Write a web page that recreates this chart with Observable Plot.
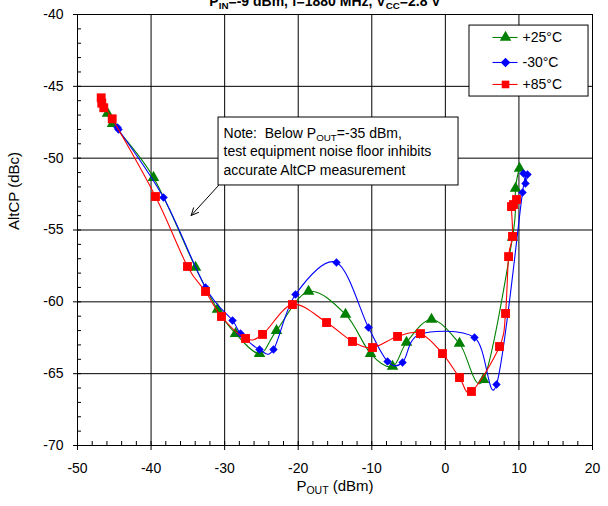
<!DOCTYPE html>
<html>
<head>
<meta charset="utf-8">
<script src="https://cdn.jsdelivr.net/npm/d3@7"></script>
<script src="https://cdn.jsdelivr.net/npm/@observablehq/plot@0.6"></script>
<style>
  html, body { margin: 0; padding: 0; background: white; }
  #chart { width: 608px; height: 506px; overflow: hidden; }
</style>
</head>
<body>
<div id="chart"></div>
<script>
// ---- Data ----
const seriesNames = ["+25°C", "-30°C", "+85°C"];
const seriesColors = ["#008000", "#0000FF", "#FF0000"];
const seriesSymbols = ["triangle", "diamond2", "square"];

const pout25 = [-45.92,-45.24,-39.67,-33.96,-30.97,-28.52,-25.26,-22.95,-18.60,-13.57,-10.17,-7.18,-5.28,-1.88,1.92,5.19,9.13,9.54,10.08];
const altcp25 = [-46.89,-47.59,-51.35,-57.61,-60.53,-62.21,-63.60,-62.00,-59.28,-60.88,-63.60,-64.50,-62.83,-61.23,-62.90,-65.41,-55.52,-52.11,-50.72];

const poutM30 = [-44.56,-44.43,-38.31,-32.60,-28.93,-27.84,-25.26,-23.36,-20.37,-14.80,-10.45,-7.86,-5.82,-3.51,3.96,6.95,10.49,10.89,11.17,10.62];
const altcpM30 = [-47.87,-48.00,-52.74,-59.00,-61.30,-62.21,-63.32,-63.32,-59.49,-57.26,-61.79,-64.15,-64.22,-62.27,-62.48,-65.76,-52.39,-51.76,-51.14,-51.07];

const pout85 = [-46.78,-46.70,-46.43,-45.28,-39.40,-35.05,-32.60,-30.43,-27.16,-24.85,-20.78,-16.15,-12.62,-9.90,-6.50,-3.38,-0.39,1.92,3.55,7.36,8.18,8.59,9.13,8.99,9.26,9.67];
const altcp85 = [-45.80,-46.17,-46.49,-47.26,-52.67,-57.54,-59.28,-61.02,-62.55,-62.27,-60.19,-61.44,-62.76,-63.18,-62.41,-62.21,-63.60,-65.27,-66.24,-63.11,-60.81,-56.85,-55.45,-53.37,-53.23,-52.88];

const xTicks = [-50,-40,-30,-20,-10,0,10,20];
const yTicks = [-70,-65,-60,-55,-50,-45,-40];
const xMinor = d3.range(-50, 20.001, 2);
const yMinor = d3.range(-70, -39.999, 1);

const titleSegs = [["P",0],["IN",1],["=-9 dBm, f=1880 MHz, V",0],["CC",1],["=2.8 V",0]];
const xLabelSegs = [["P",0],["OUT",1],[" (dBm)",0]];
const yLabelText = "AltCP (dBc)";
const noteLine1Segs = [["Note:  Below P",0],["OUT",1],["=-35 dBm,",0]];
const noteLines = ["test equipment noise floor inhibits", "accurate AltCP measurement"];

// Annotation placement (in chart units)
const noteBox = {x1: -30.83, x2: 1.79, y1: -47.17, y2: -51.90};
const noteTextX = -30.15;
const noteTextY = [-48.28, -49.54, -50.86];
const noteArrow = {x1: -30.83, y1: -51.90, x2: -34.55, y2: -53.99};
const legendBox = {x1: 3.28, x2: 19.46, y1: -40.77, y2: -45.71};
const legendRowY = [-41.60, -43.34, -44.87];
const legendLineX = [6.41, 9.81];
const legendMarkX = 8.18;
const legendTextX = 10.49;

// ---- Build tables ----
const join = segs => segs.map(s => s[0]).join("");
const toRows = (xs, ys, s) => xs.map((x, i) => ({pout: x, altcp: ys[i], series: s}));
const series = [
  toRows(pout25, altcp25, 0),
  toRows(poutM30, altcpM30, 1),
  toRows(pout85, altcp85, 2)
];
const legendRows = seriesNames.map((n, i) => ({name: n, color: seriesColors[i], symbol: seriesSymbols[i], y: legendRowY[i]}));
const noteRows = [join(noteLine1Segs), ...noteLines].map((t, i) => ({t, y: noteTextY[i]}));

const FONT = "'Liberation Sans', Arial, sans-serif";
const FS = 14;
const hyphen = d => String(d);

const seriesMarks = series.flatMap((rows, i) => [
  Plot.line(rows, {x: "pout", y: "altcp", stroke: seriesColors[i], strokeWidth: 1.1, curve: "cardinal", tension: 0}),
  Plot.dot(rows, {x: "pout", y: "altcp", symbol: seriesSymbols[i], fill: seriesColors[i], stroke: "none", r: i === 2 ? 5 : (i === 1 ? 3.8 : 4.3)})
]);

const chart = Plot.plot({
  width: 608,
  height: 506,
  marginLeft: 77,
  marginRight: 16,
  marginTop: 14,
  marginBottom: 61,
  style: {fontFamily: FONT, fontSize: FS + "px", background: "white", color: "black", overflow: "hidden"},
  x: {domain: [-50, 20]},
  y: {domain: [-70, -40]},
  marks: [
    Plot.gridX({ticks: xTicks, stroke: "black", strokeOpacity: 1, strokeWidth: 1}),
    Plot.gridY({ticks: yTicks, stroke: "black", strokeOpacity: 1, strokeWidth: 1}),
    Plot.frame({stroke: "black", strokeWidth: 1}),
    Plot.axisX({ticks: xTicks, tickSize: 5, tickPadding: 13, fontSize: FS, tickFormat: hyphen, label: null}),
    Plot.axisX({ticks: xMinor, tickSize: -4, tickFormat: () => "", label: null}),
    Plot.axisY({ticks: yTicks, tickSize: 4, tickPadding: 10, fontSize: FS, tickFormat: hyphen, label: null}),
    Plot.axisY({ticks: yMinor, tickSize: -4, tickFormat: () => "", label: null}),
    // note box + arrow
    Plot.rect([noteBox], {x1: "x1", x2: "x2", y1: "y1", y2: "y2", fill: "white", stroke: "black", strokeWidth: 1}),
    Plot.text(noteRows, {x: noteTextX, y: "y", text: "t", textAnchor: "start", fontSize: FS, fill: "black"}),
    Plot.arrow([noteArrow], {x1: "x1", y1: "y1", x2: "x2", y2: "y2", stroke: "black", strokeWidth: 1, headLength: 12, headAngle: 50}),
    // legend
    Plot.rect([legendBox], {x1: "x1", x2: "x2", y1: "y1", y2: "y2", fill: "white", stroke: "black", strokeWidth: 1}),
    Plot.link(legendRows, {x1: legendLineX[0], x2: legendLineX[1], y1: "y", y2: "y", stroke: "color", strokeWidth: 1.1}),
    Plot.dot(legendRows, {x: legendMarkX, y: "y", symbol: "symbol", fill: "color", stroke: "none", r: 4.3}),
    Plot.text(legendRows, {x: legendTextX, y: "y", text: "name", textAnchor: "start", fontSize: FS, fill: "black"}),
    // data
    ...seriesMarks,
    // axis labels & title
    Plot.text([join(xLabelSegs)], {frameAnchor: "bottom", dy: 45, text: d => d, fontSize: 15, fill: "black"}),
    Plot.text([yLabelText], {frameAnchor: "left", dx: -63, rotate: -90, text: d => d, fontSize: 15, fill: "black"}),
    Plot.text([join(titleSegs)], {frameAnchor: "top", dx: -10, dy: -9, lineAnchor: "bottom", text: d => d, fontSize: FS, fontWeight: "bold", fill: "black"})
  ]
});
document.getElementById("chart").appendChild(chart);

// Subscript rewriting of text elements
function applySubs(root, segs) {
  const full = join(segs);
  d3.select(root).selectAll("text").filter(function() { return this.textContent === full; }).each(function() {
    const t = d3.select(this);
    t.text(null);
    let shifted = false;
    segs.forEach(([s, sub]) => {
      const sp = t.append("tspan").text(s);
      if (sub && !shifted) { sp.attr("dy", 3).attr("font-size", "0.7em"); shifted = true; }
      else if (!sub && shifted) { sp.attr("dy", -3); shifted = false; }
    });
  });
}
[titleSegs, xLabelSegs, noteLine1Segs].forEach(s => applySubs(chart, s));
</script>
</body>
</html>
